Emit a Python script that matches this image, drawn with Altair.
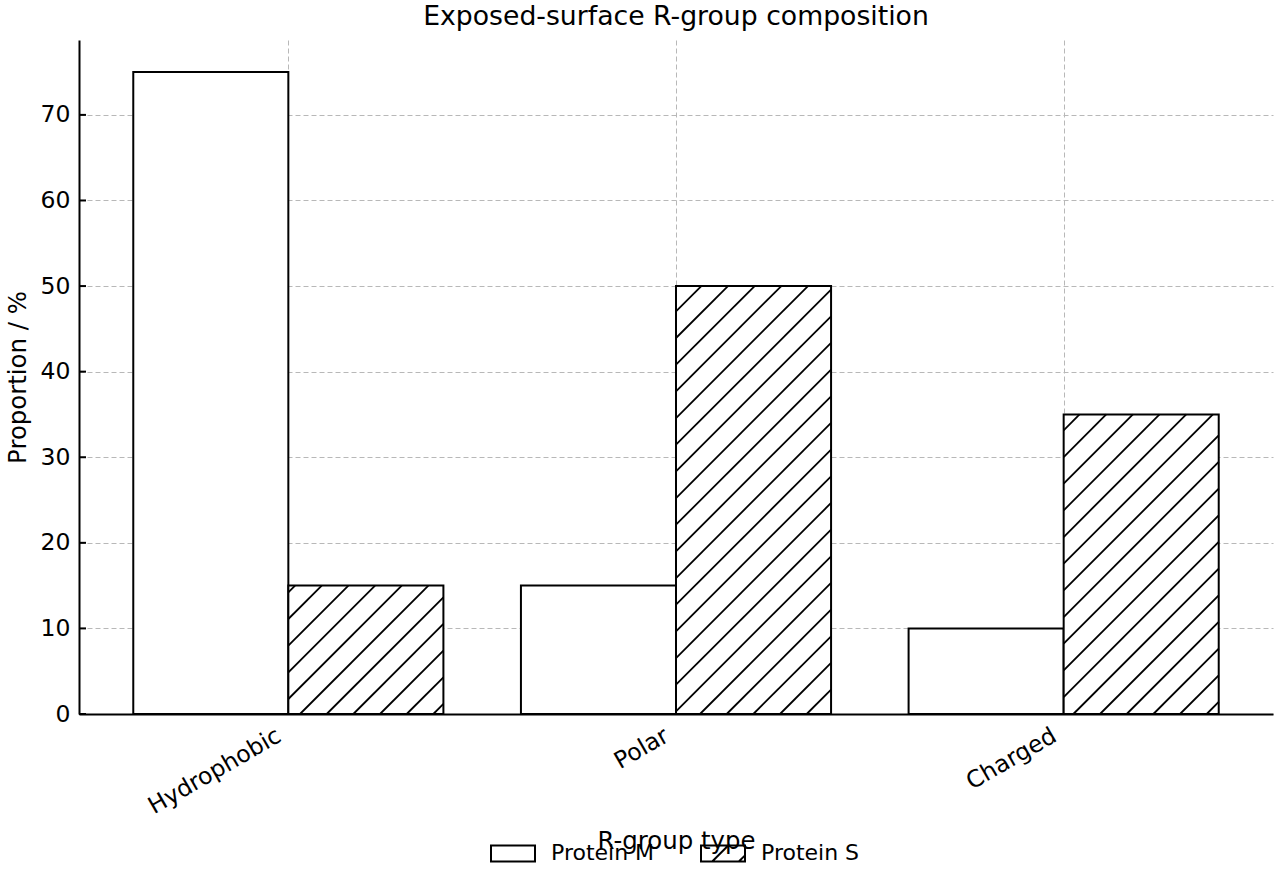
import math
import altair as alt
import pandas as pd

# ---- data -------------------------------------------------------------
categories = ["Hydrophobic", "Polar", "Charged"]
series = ["Protein M", "Protein S"]
protein_m = [75, 15, 10]
protein_s = [15, 50, 35]
y_ticks = [0, 10, 20, 30, 40, 50, 60, 70]

# ---- layout / style ----------------------------------------------------
FONT = "DejaVu Sans"
TICK_FS = 23.5
BAR_W = 0.4
W, H = 1194, 674
X_DOM = [-0.54, 2.54]
Y_DOM = [0, 78.75]
HATCH_GAP = 26.667
HATCH_PHASE = 15.0
GRID_COLOR = "#b8b8b8"

rows = []
for i, c in enumerate(categories):
    rows.append(dict(cat=c, series=series[0], x0=i - BAR_W, x1=i, y0=0, value=protein_m[i]))
    rows.append(dict(cat=c, series=series[1], x0=i, x1=i + BAR_W, y0=0, value=protein_s[i]))
bars_df = pd.DataFrame(rows)

sx = W / (X_DOM[1] - X_DOM[0])
sy = H / (Y_DOM[1] - Y_DOM[0])


def to_px(xd, yd):
    return (xd - X_DOM[0]) * sx, (Y_DOM[1] - yd) * sy


def to_data(px, py):
    return X_DOM[0] + px / sx, Y_DOM[1] - py / sy


# hatch ("/") segments inside Protein S bars, derived from the bar values
segs = []
for r in rows:
    if r["series"] != series[1]:
        continue
    X0, Yt = to_px(r["x0"], r["value"])
    X1, Yb = to_px(r["x1"], 0)
    k0 = math.ceil((X0 + Yt - HATCH_PHASE) / HATCH_GAP)
    k1 = math.floor((X1 + Yb - HATCH_PHASE) / HATCH_GAP)
    for k in range(k0, k1 + 1):
        c = HATCH_PHASE + k * HATCH_GAP
        xa = max(X0, c - Yb)
        xb = min(X1, c - Yt)
        if xb - xa > 0.5:
            ax, ay = to_data(xa, c - xa)
            bx, by = to_data(xb, c - xb)
            segs.append(dict(hx=ax, hy=ay, hx2=bx, hy2=by))
hatch_df = pd.DataFrame(segs)

ticks_df = pd.DataFrame({"t": y_ticks})
cat_df = pd.DataFrame({"cat": categories, "xi": list(range(len(categories))), "y0": [Y_DOM[0]] * len(categories)})
# legend carrier points: placed below the y domain and clipped (never visible)
legend_df = pd.DataFrame({"series": series, "xi": [0, 1], "yz": [Y_DOM[0] - 20] * 2})

# legend swatches as custom symbol paths (44 x 16 px box at symbol size 1936)
path_plain = "M-1,-0.364L1,-0.364L1,0.364L-1,0.364Z"
path_hatch = path_plain + " M-0.49,0.364L0.237,-0.364 M0.72,0.364L1,0.084"

x_scale = alt.Scale(domain=X_DOM, nice=False, zero=False)
y_scale = alt.Scale(domain=Y_DOM, nice=False, zero=False)

x_axis = alt.Axis(
    values=[0, 1, 2],
    labels=False,
    title="R-group type",
    ticks=False,
    titleY=134,
    titleBaseline="alphabetic",
    titleAnchor="middle",
)
y_axis = alt.Axis(
    values=y_ticks,
    title="Proportion / %",
    ticks=False,
    labelPadding=9,
    labelFontSize=TICK_FS,
    titleAngle=270,
    titleX=-54,
    titleY=H / 2,
    titleAlign="center",
    titleBaseline="alphabetic",
)

bars = alt.Chart(bars_df).mark_bar(
    fill="white", stroke="black", strokeWidth=2, cornerRadius=0
).encode(
    x=alt.X("x0:Q", scale=x_scale, axis=x_axis),
    x2="x1:Q",
    y=alt.Y("value:Q", scale=y_scale, axis=y_axis),
    y2="y0:Q",
)

hatch = alt.Chart(hatch_df).mark_rule(color="black", strokeWidth=1.8).encode(
    x=alt.X("hx:Q", scale=x_scale, axis=x_axis),
    y=alt.Y("hy:Q", scale=y_scale, axis=y_axis),
    x2="hx2:Q",
    y2="hy2:Q",
)

yticks = alt.Chart(ticks_df).mark_rule(color="black", strokeWidth=2).encode(
    x=alt.value(0),
    x2=alt.value(7),
    y=alt.Y("t:Q", scale=y_scale, axis=y_axis),
)

# rotated category labels (matplotlib-style rotation=30, ha="right")
xlabels = alt.Chart(cat_df).mark_text(
    angle=330, align="right", baseline="top", dx=-18, dy=1,
    font=FONT, fontSize=TICK_FS, color="black",
).encode(
    x=alt.X("xi:Q", scale=x_scale, axis=x_axis),
    y=alt.Y("y0:Q", scale=y_scale, axis=y_axis),
    text="cat:N",
)

legend_pts = alt.Chart(legend_df).mark_point(
    filled=False, color="black", strokeWidth=2, clip=True
).encode(
    x=alt.X("xi:Q", scale=x_scale, axis=x_axis),
    y=alt.Y("yz:Q", scale=y_scale, axis=y_axis),
    shape=alt.Shape(
        "series:N",
        scale=alt.Scale(domain=series, range=[path_plain, path_hatch]),
        legend=alt.Legend(
            title=None,
            orient="none",
            legendX=411,
            legendY=790,
            direction="horizontal",
            symbolSize=1936,
            symbolFillColor="white",
            symbolStrokeColor="black",
            symbolStrokeWidth=2,
            symbolOpacity=1,
            labelFont=FONT,
            labelFontSize=22,
            labelColor="black",
            labelOffset=15,
            columnPadding=42,
            padding=0,
        ),
    ),
)

chart = alt.layer(bars, hatch, yticks, xlabels, legend_pts).properties(
    width=W,
    height=H,
    background="white",
    title=alt.Title(
        "Exposed-surface R-group composition",
        font=FONT,
        fontSize=26.7,
        fontWeight="normal",
        color="black",
        anchor="middle",
        baseline="alphabetic",
        offset=13,
        dy=25,
    ),
    autosize=alt.AutoSizeParams(type="none"),
    padding={"left": 79, "top": 40, "right": 7, "bottom": 166},
).configure_view(stroke=None).configure_axis(
    zindex=1,
    grid=True,
    gridColor=GRID_COLOR,
    gridDash=[5, 3],
    gridWidth=1,
    domainColor="black",
    domainWidth=2,
    labelFont=FONT,
    labelFontSize=TICK_FS,
    labelColor="black",
    titleFont=FONT,
    titleFontSize=24.4,
    titleFontWeight="normal",
    titleColor="black",
)

chart.save("out.html", embed_options={"renderer": "svg", "actions": False})
